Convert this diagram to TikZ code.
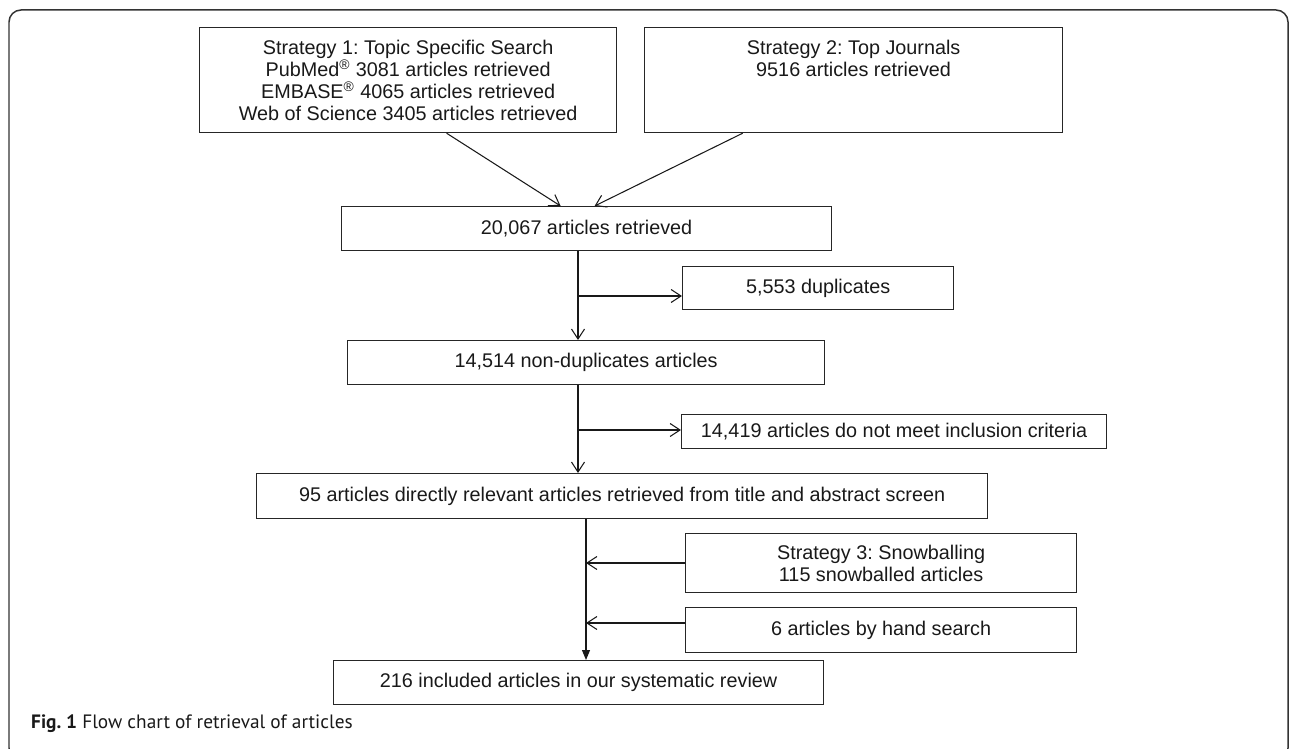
\documentclass[tikz,border=0pt]{standalone}
\usepackage{fontspec}
\setmainfont{Liberation Sans}
\newfontfamily\capfont{PT Sans}
\usetikzlibrary{arrows.meta}
\frenchspacing
\begin{document}
\begin{tikzpicture}[x=0.02cm,y=-0.02cm,
  box/.style={draw=black!85,line width=0.7pt,inner sep=0pt,anchor=north west,align=center,
    text=black!90,font=\fontsize{11.27pt}{12.5pt}\selectfont},
  arr/.style={draw=black!90,line width=0.6pt,-{Straight Barb[length=0.2cm,width=0.26cm]}},
  fin/.style={draw=black!90,line width=0.6pt,-{Triangle[length=0.2cm,width=0.16cm]}},
  frame/.style={draw=black!80,line width=0.85pt,rounded corners=0.24cm}]
\useasboundingbox (0,0) rectangle (1290,749);
\draw[frame] (9,10) rectangle (1288,760);

\node[box,minimum width=0.02cm*417,minimum height=0.02cm*105] (1) at (199,27)
  {Strategy 1: Topic Specific Search\\PubMed\textsuperscript{®} 3081 articles retrieved\\EMBASE\textsuperscript{®} 4065 articles retrieved\\Web of Science 3405 articles retrieved};
\node[box,minimum width=0.02cm*418,minimum height=0.02cm*105] (2) at (644,27)
  {Strategy 2: Top Journals\\9516 articles retrieved\\~\\~};
\node[box,minimum width=0.02cm*490,minimum height=0.02cm*44] (3) at (341,206) {20,067 articles retrieved};
\node[box,minimum width=0.02cm*271,minimum height=0.02cm*43] (4) at (682,266) {5,553 duplicates};
\node[box,minimum width=0.02cm*477,minimum height=0.02cm*44] (5) at (347,340) {14,514 non-duplicates articles};
\node[box,minimum width=0.02cm*425,minimum height=0.02cm*34] (6) at (681,414) {14,419 articles do not meet inclusion criteria};
\node[box,minimum width=0.02cm*731,minimum height=0.02cm*45] (7) at (256,473)
  {95 articles directly relevant articles retrieved from title and abstract screen};
\node[box,minimum width=0.02cm*391,minimum height=0.02cm*59] (8) at (685,533) {Strategy 3: Snowballing\\115 snowballed articles};
\node[box,minimum width=0.02cm*391,minimum height=0.02cm*45] (9) at (685,607) {6 articles by hand search};
\node[box,minimum width=0.02cm*490,minimum height=0.02cm*44] (10) at (333,660) {216 included articles in our systematic review};

% junctions on the main line
\coordinate (a) at (578,296);
\coordinate (b) at (578,430);
\coordinate (c) at (586,563);
\coordinate (d) at (586,623);

\draw[arr] ([xshift=0.77cm]1.south) -- ([xshift=-0.52cm]3.north);
\draw[arr] ([xshift=-2.22cm]2.south) -- ([xshift=0.16cm]3.north);
\draw[arr] (3.south -| a) -- (5.north -| a);
\draw[arr] (a) -- (4.west |- a);
\draw[arr] (5.south -| b) -- (7.north -| b);
\draw[arr] (b) -- (6.west |- b);
\draw[fin] (7.south -| c) -- (10.north -| c);
\draw[arr] (8.west |- c) -- (c);
\draw[arr] (9.west |- d) -- (d);

\node[anchor=base west,text=black!90,font=\capfont\fontsize{11pt}{13pt}\selectfont] (cap) at (25,728)
  {\textbf{Fig. 1} Flow chart of retrieval of articles};
\end{tikzpicture}
\end{document}
